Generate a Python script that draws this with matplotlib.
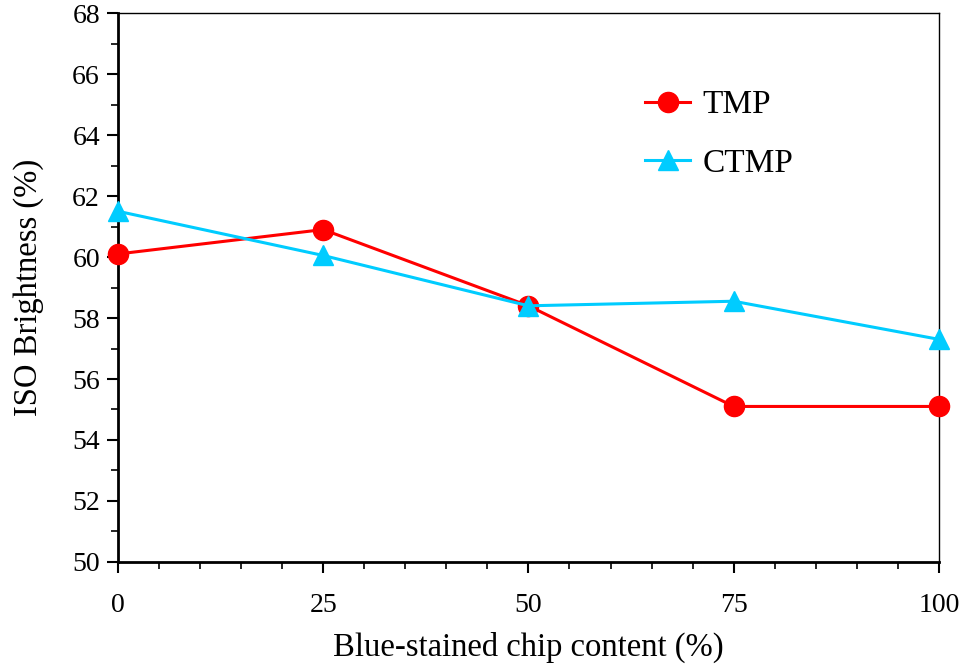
import numpy as np
import matplotlib.pyplot as plt
from matplotlib.ticker import MultipleLocator

plt.rcParams['font.family'] = ['Liberation Serif', 'DejaVu Serif']

# Blue-stained chip content (%) and ISO brightness (%)
chip_content = [0, 25, 50, 75, 100]
tmp_brightness = [60.1, 60.9, 58.4, 55.1, 55.1]
ctmp_brightness = [61.5, 60.05, 58.4, 58.55, 57.3]

fig = plt.figure(figsize=(9.63, 6.68), dpi=100)
ax = fig.add_axes([0.1225, 0.1587, 0.8525, 0.8218])

ax.plot(chip_content, tmp_brightness, color='#ff0000', lw=2.2, marker='o',
        ms=14.5, label='TMP', clip_on=False, zorder=3)
ax.plot(chip_content, ctmp_brightness, color='#00ccff', lw=2.2, marker='^',
        ms=15, label='CTMP', clip_on=False, zorder=3)

ax.set_xlim(0, 100)
ax.set_ylim(50, 68)
ax.xaxis.set_major_locator(MultipleLocator(25))
ax.xaxis.set_minor_locator(MultipleLocator(5))
ax.yaxis.set_major_locator(MultipleLocator(2))
ax.yaxis.set_minor_locator(MultipleLocator(1))

ax.spines['left'].set_linewidth(2)
ax.spines['bottom'].set_linewidth(2)
ax.spines['top'].set_linewidth(1)
ax.spines['right'].set_linewidth(1)
ax.tick_params(which='major', direction='out', length=8, width=1.5,
               labelsize=20, top=False, right=False, pad=5)
ax.tick_params(which='minor', direction='out', length=5, width=1.2,
               top=False, right=False)
ax.tick_params(axis='x', pad=14)

ax.set_xlabel('Blue-stained chip content (%)', fontsize=23.5, labelpad=10)
ax.set_ylabel('ISO Brightness (%)', fontsize=23.5, labelpad=20)

ax.legend(loc='upper left', bbox_to_anchor=(0.606, 0.915), frameon=False,
          fontsize=24, handlelength=1.35, labelspacing=0.85, handletextpad=0.35)

fig.savefig('out.png', dpi=100)
